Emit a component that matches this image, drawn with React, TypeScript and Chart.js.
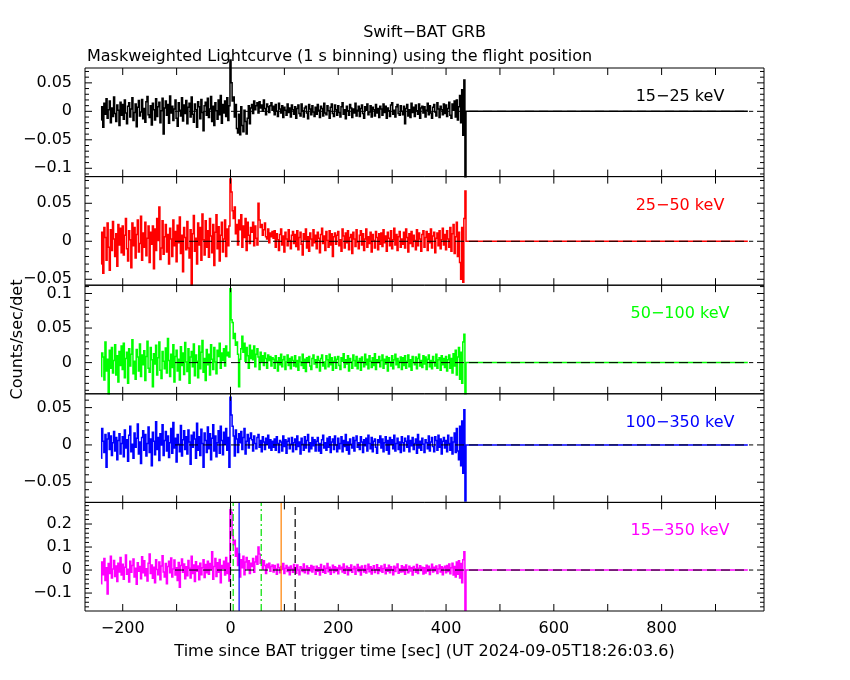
import { useEffect, useRef } from 'react';
import { Chart, registerables } from 'chart.js';

Chart.register(...registerables);

const FONT = '"DejaVu Sans", sans-serif';
const TITLE = 'Swift−BAT GRB';
const SUBTITLE = 'Maskweighted Lightcurve (1 s binning) using the flight position';
const X_TITLE = 'Time since BAT trigger time [sec] (UT 2024-09-05T18:26:03.6)';
const Y_TITLE = 'Counts/sec/det';

// time axis
const X_MIN = -270;
const X_MAX = 990;
const X_TICK_STEP = 100;
const X_LABEL_STEP = 200;

// light-curve bins: first bin centre and bin width (s); rates below in 1e-3 counts/sec/det
const BIN_START = -240;
const BIN_WIDTH = 2;
const ZERO_TAIL = [438, 960]; // flat zero after the end of data

const BAND_LABELS = ['15−25 keV', '25−50 keV', '50−100 keV', '100−350 keV', '15−350 keV'];
const BAND_COLORS = ['#000000', '#ff0000', '#00ff00', '#0000ff', '#ff00ff'];
const Y_MIN = [-0.1146, -0.0578, -0.0451, -0.077, -0.178];
const Y_MAX = [0.0761, 0.0851, 0.112, 0.0685, 0.294];
const Y_MAJOR = [0.05, 0.05, 0.05, 0.05, 0.1];
const Y_MINOR = [0.01, 0.01, 0.01, 0.01, 0.02];

const ZERO_LINE = [-103, 970];

// vertical markers in the 15-350 keV panel
const MARK_TIMES = [0, 5, 16, 57, 94, 120];
const MARK_COLORS = ['#000000', '#00e000', '#0000ff', '#00e000', '#ff8000', '#000000'];
const MARK_DASHES = [[8, 4], [7, 3, 2, 3], [], [7, 3, 2, 3], [], [8, 4]];

const rate15_25 = [
  -15, 8, -28, 14, -5, 22, -12, 3, 18, -20, 6, -9, 25, -4, -18, 11, 2, -25, 16, -7,
  12, -14, 20, -3, -22, 9, 15, -10, 4, 24, -16, -2, 13, -27, 7, 19, -8, -1, 21, -13,
  5, -19, 17, 26, -6, -11, 10, -24, 14, 3, -15, 22, -9, 8, 16, -20, 1, 23, -40, 6,
  18, -7, 12, -21, 27, -3, 9, -16, 4, 20, -12, -26, 15, 2, -8, 24, -17, 11, -4, 19,
  -22, 7, 14, -10, 25, -5, -19, 13, 3, -28, 17, 8, -13, 21, -2, -34, 10, 16, -7, 23,
  -11, 4, 26, -18, 9, -25, 15, 1, -14, 20, -6, 28, -21, 12, -3, 18, -9, 24, -16, 10,
  90, 50, 18, 25, -10, 12, -30, -38, -5, -41, 8, -25, -36, 2, -18, -40, -12, 10, -22, 6,
  12, -4, 18, 3, 10, 15, -3, 17, 6, 11, 0, 20, 5, -6, 13, 8, -2, 10, 15, 2,
  9, -6, 12, 0, -9, 14, 4, -3, 10, -11, 7, 2, -7, 13, -2, 6, -10, 11, 3, -5,
  8, -12, 5, 11, -4, -8, 13, 1, -10, 6, 9, -3, -13, 12, 4, -6, 10, -1, -9, 7,
  -5, 12, 2, -11, 9, 5, -8, 14, -3, -6, 10, 1, -12, 7, 13, -4, -9, 11, 3, -7,
  10, -2, -10, 8, 15, -5, 3, -13, 9, 1, -7, 12, 6, -11, 4, -3, 14, -8, 2, 9,
  -9, 5, 11, -4, -12, 8, 2, 13, -6, -1, 10, -10, 7, 3, -8, 12, -3, 5, -11, 9,
  4, -7, 13, -2, 9, -12, 6, 1, -9, 11, 15, -5, 2, -10, 8, 12, -4, -7, 10, 0,
  -6, 9, -22, 5, 12, -8, 3, -11, 14, -2, 7, -9, 11, 1, -5, 13, -12, 6, 9, -3,
  8, -10, 2, 14, -6, 10, -3, -12, 7, 12, -1, -8, 15, 4, -11, 9, 3, -6, 13, -4,
  11, -9, 5, 16, -7, -12, 13, 2, 18, -10, 20, -15, 8, 28, -20, 38, -42, 55, -115,
];

const rate25_50 = [
  -30, 12, -42, 18, 5, -25, 24, -8, -38, 15, -12, 26, 3, -20, 10, -33, 22, -5, 17, -15,
  20, -18, 8, 30, -10, -26, 14, 2, -35, 24, -6, 18, -22, 9, 28, -14, -3, 33, -25, 11,
  -8, 25, -19, 4, 20, -28, 12, -4, 20, -36, 16, -12, 30, 1, 45, -24, -9, 27, -17, 6,
  22, -14, 9, -30, 17, 3, -20, 28, -6, 13, -27, 21, -2, 32, -16, 8, -40, 18, 5, -11,
  26, -9, -22, 15, -58, 10, 34, -13, 4, -30, 24, -5, 18, -25, 36, 2, -18, 27, -8, 14,
  -21, 30, 7, -15, 22, -32, 12, 35, -10, 19, -26, 8, 25, -14, 3, 28, -20, 16, -6, 20,
  82, 65, 40, 30, 45, 10, 22, -5, 28, 15, 35, -8, 20, 5, 30, -12, 25, 8, -3, 18,
  12, 25, -6, 20, 4, -5, 50, 28, 18, 22, 8, 15, 24, 6, 3, 16, -2, 11, 6, 13,
  4, 14, -8, 10, 2, -12, 9, 16, -5, 7, -14, 12, 3, -6, 15, 1, -10, 8, 13, -3,
  9, -7, 14, -11, 5, 12, -4, -18, 10, 2, 16, -9, 6, -13, 11, 3, -6, 15, -2, 8,
  -10, 12, 4, -15, 9, 17, -3, 7, -12, 13, 1, -8, 14, -5, 10, -20, 6, 11, -4, 8,
  13, -6, 2, -13, 16, 7, -9, 11, -2, 14, -11, 5, 9, -16, 12, 3, -7, 15, -1, -10,
  8, 14, -5, 10, -12, 3, 16, -8, 6, -3, 12, -14, 9, 1, -9, 13, 5, -11, 10, -4,
  11, -7, 15, -2, 7, -13, 12, 4, -6, 14, -10, 2, 17, -5, 9, -12, 6, 13, -8, 3,
  -4, 12, -9, 16, 5, -14, 10, -3, 13, -7, 8, 1, -11, 15, -6, 11, 3, -13, 9, 14,
  -8, 5, 13, -12, 10, -2, 16, -9, 7, 12, -15, 4, 11, -6, 14, -10, 2, 17, -5, 9,
  -11, 14, 3, -8, 18, -13, 10, 22, -16, 6, 25, -20, 12, -28, -50, 18, -54, 30, 66,
];

const rate50_100 = [
  -20, 14, 8, -25, 30, -12, 5, -45, 18, -8, 22, -15, 3, 26, -18, 10, -28, 16, -4, 24,
  -10, 28, -22, 6, 15, -30, 20, -5, 12, 33, -16, 2, -24, 19, 8, -12, 27, -20, 11, -3,
  17, -26, 9, 31, -8, -14, 22, 4, -35, 13, -2, 25, -18, 7, 30, -11, -23, 16, 2, -9,
  21, -15, 35, 3, -20, 12, -7, 26, -28, 9, 18, -12, 5, -25, 23, -4, 14, -17, 29, 1,
  -13, 20, -30, 8, 16, -6, 27, -19, 11, 2, -22, 24, -9, 15, 32, -14, 6, -26, 19, -3,
  12, -18, 26, 5, -10, 22, 1, -16, 18, 9, 28, -8, 14, 3, 20, -5, 24, 10, 15, 8,
  107, 62, 58, 35, 42, 25, 30, 12, -35, 5, 20, 38, 15, 28, 2, 22, 10, -8, 25, 6,
  18, 4, 24, -6, 12, 20, 8, -10, 15, 2, 10, -4, 14, 6, -8, 11, 3, 9, -5, 7,
  5, -8, 10, 2, -12, 7, -3, 12, -6, 4, 9, -10, 1, 11, -4, 6, -9, 8, 3, -5,
  10, -6, 3, -11, 8, 1, -4, 12, -8, 5, -13, 7, 2, 9, -5, -10, 6, 11, -2, 4,
  -7, 9, 3, -12, 6, 11, -5, 1, -9, 10, 4, -6, 12, -3, 7, -11, 2, 8, -8, 5,
  9, -4, -10, 7, 2, 13, -7, 4, -2, 10, -12, 6, 1, -8, 11, 3, -5, 9, -9, 2,
  6, -11, 8, 1, -6, 12, -3, 5, -9, 10, 2, -7, 7, -4, 13, -10, 4, 0, 9, -6,
  3, 11, -8, 5, -2, 9, -12, 7, 1, -5, 10, -9, 4, 12, -3, 6, -7, 2, 8, -10,
  7, -4, 10, -8, 2, 11, -6, 4, -11, 9, 0, -3, 8, -9, 6, 12, -5, 3, -7, 10,
  -2, 8, -10, 5, 11, -6, 3, -9, 9, 1, -5, 12, -8, 4, 7, -11, 10, -3, 6, -7,
  9, -12, 4, 11, -8, 6, -15, 13, -5, 18, -18, 8, 22, -24, 15, -30, 30, 41, -45,
];

const rate100_350 = [
  -18, 22, 5, -10, 14, -30, 8, 16, -6, 12, -14, 3, 18, -8, 10, -20, 6, 15, -12, 2,
  11, -16, 20, -4, 7, -22, 13, 25, -9, 1, -18, 16, -3, 9, 28, -12, 4, -25, 10, 19,
  -7, 14, -15, 2, 24, -10, 8, -28, 17, 5, -13, 31, -6, 10, -21, 15, 0, 27, -14, 6,
  18, -8, 12, -17, 3, 22, -11, 30, -4, 9, -23, 14, 1, -9, 26, -15, 7, 19, -6, 11,
  -12, 20, 4, -26, 13, -3, 17, 8, -18, 29, -7, 11, -14, 21, 2, -30, 16, 6, -10, 24,
  -5, 15, -20, 9, 27, -8, 12, -16, 3, 19, -11, 25, 6, -13, 17, 1, 22, -7, 10, -30,
  64, 40, 25, 12, -15, 20, 8, -10, 15, 3, 18, -6, 10, 22, -12, 5, 14, -4, 9, 16,
  7, -8, 12, 2, -5, 10, 14, -3, 6, -9, 11, 4, -6, 9, 1, 13, -4, 7, -7, 5,
  -3, 8, -7, 11, 2, -10, 6, 4, -8, 12, -2, 7, -11, 5, 9, -5, 1, 10, -9, 3,
  8, -6, 12, -2, 4, -12, 9, 1, -7, 11, -4, 6, 14, -9, 3, -5, 10, -1, 7, -8,
  5, 10, -8, 2, -11, 7, 13, -4, 3, -7, 9, -3, 11, -10, 4, 8, -6, 12, 0, -9,
  9, -5, 2, 11, -9, 6, -2, 14, -7, 4, -12, 8, 1, -4, 10, -8, 6, 12, -3, 3,
  -6, 11, 4, -10, 7, -1, 9, -8, 13, 2, -5, 10, -9, 5, 8, -3, -11, 7, 3, 12,
  -4, 8, -9, 3, 11, -7, 6, -12, 10, 1, 7, -5, 13, -8, 2, 9, -6, 4, -10, 11,
  3, -8, 9, 5, -3, 12, -9, 6, -1, 10, -6, 2, 8, -11, 14, -4, 5, -7, 9, 1,
  -10, 7, 3, -5, 12, -8, 4, 10, -2, -9, 11, 6, -7, 13, -3, 8, -12, 5, 10, -4,
  6, -9, 13, 2, -7, 10, -12, 4, 16, -10, 22, -8, -20, 25, -28, 32, -38, 47, -75,
];

const rate15_350 = [
  -60, 35, -20, 50, -45, 10, -104, 28, -15, 60, -35, 5, 42, -28, 18, -50, 30, -8, 55, -22,
  25, -40, 12, 65, -18, 3, -52, 38, -10, 20, 48, -30, 8, -62, 32, -5, 15, -38, 58, -12,
  40, -25, 6, -48, 30, 70, -15, 22, -36, 12, -55, 45, 2, -20, 35, -42, 18, 62, -8, -30,
  28, -60, 15, 38, -12, 52, -30, 5, 44, -22, 10, -45, 33, -75, 20, 48, -10, 26, -38, 14,
  -25, 42, 8, -35, 60, -15, 22, -50, 36, -5, 18, -42, 30, -20, 10, 45, -32, 24, -12, 38,
  -18, 28, 5, 80, -40, 15, 50, -28, 32, -10, 46, -55, 20, 8, 38, -22, 55, -15, 30, -48,
  262, 250, 150, 110, 130, 60, 95, 20, 70, -30, 45, 10, 60, -20, 35, 55, 5, 40, -15, 30,
  15, 50, -10, 35, 60, 25, 100, 70, 30, 45, 5, 40, 20, -15, 25, 10, 30, -5, 15, 22,
  -8, 20, 5, -18, 25, 10, -12, 15, 2, 28, -15, 8, 20, -6, 12, -20, 18, 4, -10, 24,
  6, -14, 22, 0, -20, 14, 8, -6, 26, -12, 4, 18, -16, 10, -3, 20, -9, 15, 2, -18,
  16, -5, 10, -22, 24, 3, -10, 18, -14, 8, 28, -7, 12, -18, 5, 21, -11, 14, -4, 9,
  -16, 20, 2, 12, -8, 26, -14, 6, 17, -20, 10, -3, 22, -10, 4, 15, -18, 8, 24, -6,
  12, -22, 18, 5, -9, 20, -13, 3, 25, -7, 14, -17, 8, 19, -11, 2, 23, -15, 10, -4,
  18, -10, 6, 24, -16, 9, -5, 21, -12, 14, 2, -20, 16, -6, 11, 26, -14, 4, -9, 19,
  -7, 13, -18, 22, 3, -12, 17, -4, 10, -21, 15, 6, -10, 24, -15, 8, 19, -2, 12, -17,
  10, -13, 21, -5, 16, -19, 7, 25, -9, 12, -3, 18, -15, 5, 22, -8, 14, -20, 9, 17,
  -12, 20, -6, 26, -16, 10, 30, -22, 15, -30, 35, -18, 40, -35, 28, -55, 45, 80, -175,
];

const RATES = [rate15_25, rate25_50, rate50_100, rate100_350, rate15_350];

function series(vals: number[]) {
  const pts = vals.map((v, i) => ({ x: BIN_START + i * BIN_WIDTH, y: v / 1000 }));
  ZERO_TAIL.forEach((t) => pts.push({ x: t, y: 0 }));
  return pts;
}

function fmt(v: number) {
  const r = Math.round(v * 1000) / 1000;
  return String(r).replace('-', '−');
}

const frames = {
  id: 'frames',
  afterDatasetsDraw(chart: any) {
    const ctx = chart.ctx;
    const xs = chart.scales.x;
    const left = xs.left;
    const right = xs.right;
    ctx.save();
    ctx.strokeStyle = '#000';
    ctx.lineWidth = 1;
    RATES.forEach((_, i) => {
      const ys = chart.scales['y' + i];
      const top = ys.top;
      const bottom = ys.bottom;
      ctx.beginPath();
      ctx.rect(left, top, right - left, bottom - top);
      xs.ticks.forEach((t: any) => {
        const px = xs.getPixelForValue(t.value);
        ctx.moveTo(px, bottom);
        ctx.lineTo(px, bottom - 7);
        ctx.moveTo(px, top);
        ctx.lineTo(px, top + 7);
      });
      const step = Y_MINOR[i];
      const k0 = Math.ceil(ys.min / step - 1e-6);
      const k1 = Math.floor(ys.max / step + 1e-6);
      for (let k = k0; k <= k1; k++) {
        const v = k * step;
        const py = ys.getPixelForValue(v);
        const q = v / Y_MAJOR[i];
        const len = Math.abs(q - Math.round(q)) < 1e-6 ? 7 : 4;
        ctx.moveTo(left, py);
        ctx.lineTo(left + len, py);
        ctx.moveTo(right, py);
        ctx.lineTo(right - len, py);
      }
      ctx.stroke();
      ctx.fillStyle = BAND_COLORS[i];
      ctx.font = `16px ${FONT}`;
      ctx.textAlign = 'center';
      ctx.textBaseline = 'alphabetic';
      ctx.fillText(BAND_LABELS[i], right - 84, top + 33);
    });
    const cx = (left + right) / 2;
    ctx.fillStyle = '#000';
    ctx.font = `16px ${FONT}`;
    ctx.textBaseline = 'alphabetic';
    ctx.textAlign = 'center';
    ctx.fillText(TITLE, cx, 37);
    ctx.textAlign = 'left';
    ctx.fillText(SUBTITLE, left + 2, 61);
    ctx.textAlign = 'center';
    ctx.fillText(X_TITLE, cx, 656);
    const yTop = chart.scales.y0.top;
    const yBot = chart.scales.y4.bottom;
    ctx.translate(18, (yTop + yBot) / 2);
    ctx.rotate(-Math.PI / 2);
    ctx.textBaseline = 'middle';
    ctx.fillText(Y_TITLE, 0, 0);
    ctx.restore();
  },
};

export default function App() {
  const ref = useRef<HTMLCanvasElement>(null);
  useEffect(() => {
    const datasets: any[] = [];
    RATES.forEach((vals, i) => {
      datasets.push({
        data: series(vals),
        yAxisID: 'y' + i,
        borderColor: BAND_COLORS[i],
        borderWidth: 1.5,
        stepped: 'middle',
        pointRadius: 0,
        fill: false,
        clip: { left: 1, right: 1, top: 9, bottom: 2 },
        order: 2,
      });
      datasets.push({
        data: ZERO_LINE.map((x) => ({ x, y: 0 })),
        yAxisID: 'y' + i,
        borderColor: '#000000',
        borderWidth: 1,
        borderDash: [9, 5],
        pointRadius: 0,
        fill: false,
        order: 1,
      });
    });
    MARK_TIMES.forEach((t, k) => {
      datasets.push({
        data: [{ x: t, y: Y_MIN[4] }, { x: t, y: Y_MAX[4] }],
        yAxisID: 'y4',
        borderColor: MARK_COLORS[k],
        borderWidth: 1.2,
        borderDash: MARK_DASHES[k],
        pointRadius: 0,
        fill: false,
        order: 0,
      });
    });

    const tickFont = { family: FONT, size: 16 };
    const scales: any = {
      x: {
        type: 'linear',
        position: 'bottom',
        min: X_MIN,
        max: X_MAX,
        grid: { display: false, drawTicks: false },
        border: { display: false },
        ticks: {
          stepSize: X_TICK_STEP,
          includeBounds: false,
          autoSkip: false,
          maxRotation: 0,
          padding: 8,
          color: '#000',
          font: tickFont,
          callback: (v: any) => (Number(v) % X_LABEL_STEP === 0 ? fmt(Number(v)) : ''),
        },
        afterFit: (s: any) => {
          s.height = 69;
        },
      },
    };
    // stacked axes are laid out bottom-up in definition order: define the lowest panel first
    for (let i = RATES.length - 1; i >= 0; i--) {
      scales['y' + i] = {
        type: 'linear',
        position: 'left',
        stack: 'bands',
        stackWeight: 1,
        min: Y_MIN[i],
        max: Y_MAX[i],
        grid: { display: false, drawTicks: false },
        border: { display: false },
        ticks: {
          stepSize: Y_MAJOR[i],
          includeBounds: false,
          autoSkip: false,
          padding: 13,
          color: '#000',
          font: tickFont,
          callback: (v: any) => fmt(Number(v)),
        },
        afterFit: (s: any) => {
          s.width = 85;
        },
      };
    }

    const chart = new Chart(ref.current as HTMLCanvasElement, {
      type: 'line',
      data: { datasets },
      options: {
        animation: false,
        responsive: false,
        events: [],
        layout: { padding: { top: 68, right: 86, left: 0, bottom: 0 } },
        plugins: { legend: { display: false }, tooltip: { enabled: false }, title: { display: false } },
        scales,
      },
      plugins: [frames],
    } as any);
    return () => chart.destroy();
  }, []);

  return (
    <div style={{ position: 'absolute', left: 0, top: 0, width: 850, height: 680, background: '#fff' }}>
      <canvas ref={ref} width={850} height={680} style={{ display: 'block', width: 850, height: 680 }} />
    </div>
  );
}
